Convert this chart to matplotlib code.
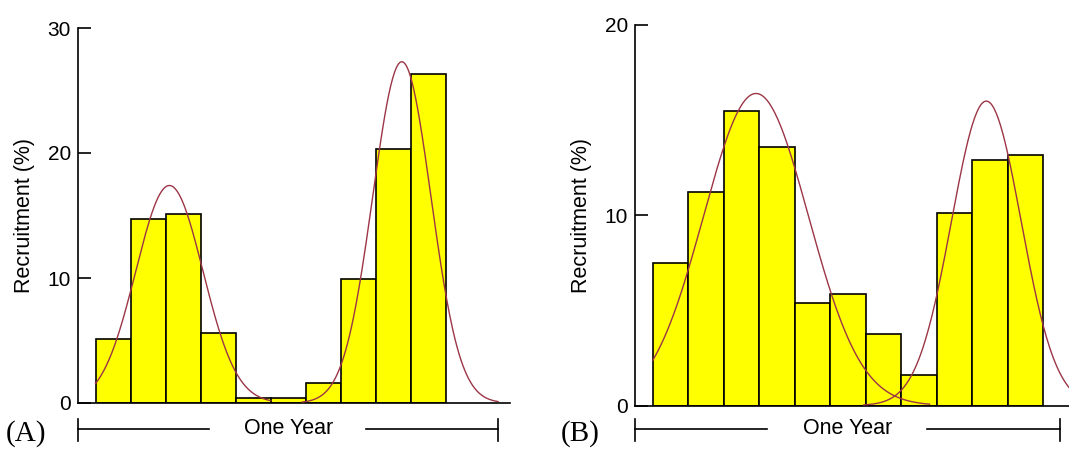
import numpy as np
import matplotlib
matplotlib.use('Agg')
import matplotlib.pyplot as plt

# panel A: recruitment per period (%)
rec_a = [5.1, 14.7, 15.1, 5.6, 0.4, 0.4, 1.6, 9.9, 20.3, 26.3]
# fitted normal components: mean, sd, peak, start, end
comp_a_mean = [2.61, 9.25]
comp_a_sd = [0.96, 0.83]
comp_a_peak = [17.4, 27.3]
comp_a_from = [0.5, 6.4]
comp_a_to = [5.5, 12.0]

# panel B
rec_b = [7.5, 11.2, 15.5, 13.6, 5.4, 5.85, 3.75, 1.6, 10.1, 12.9, 13.15]
comp_b_mean = [3.41, 9.9]
comp_b_sd = [1.48, 0.98]
comp_b_peak = [16.4, 16.0]
comp_b_from = [0.5, 6.45]
comp_b_to = [8.3, 12.3]

curve_col = '#9c3546'
font = 'Liberation Sans'

fig = plt.figure(figsize=(10.69, 4.49), dpi=100)
ax_a = fig.add_axes([78 / 1069, 46 / 449, 432 / 1069, 375 / 449])
ax_b = fig.add_axes([635 / 1069, 43.5 / 449, 434 / 1069, 380.5 / 449])


def draw(ax, rec, means, sds, peaks, starts, ends, ymax, xmax):
    pos = np.arange(1, len(rec) + 1)
    ax.bar(pos, rec, width=1.0, color='#ffff00', edgecolor='black', linewidth=1.2, zorder=2)
    for m, s, p, a, b in zip(means, sds, peaks, starts, ends):
        xs = np.linspace(a, b, 200)
        ax.plot(xs, p * np.exp(-(xs - m) ** 2 / (2 * s ** 2)), color=curve_col, lw=1.0, zorder=3)
    ax.set_xlim(0, xmax)
    ax.set_ylim(0, ymax)
    ax.set_yticks(range(0, ymax + 1, 10))
    ax.set_xticks([])
    for side in ['top', 'right']:
        ax.spines[side].set_visible(False)
    ax.spines['left'].set_linewidth(1.2)
    ax.spines['bottom'].set_linewidth(1.2)
    ax.spines['left'].set_zorder(4)
    ax.tick_params(axis='y', direction='in', length=9, width=1.2, labelsize=15, pad=5)
    for t in ax.get_yticklabels():
        t.set_fontfamily(font)
    ax.set_ylabel('Recruitment (%)', fontsize=15.5, fontfamily=font, labelpad=9)
    ax.patch.set_alpha(0)


draw(ax_a, rec_a, comp_a_mean, comp_a_sd, comp_a_peak, comp_a_from, comp_a_to, 30, 12.34)
draw(ax_b, rec_b, comp_b_mean, comp_b_sd, comp_b_peak, comp_b_from, comp_b_to, 20, 12.23)

# "One Year" brackets and panel letters (figure pixel coords)
def px(x, y):
    return x / 1069, 1 - y / 449


def bracket(x0, x1, xt0, xt1, xc, letter, lx):
    y = 429
    for a, b in [(x0, xt0), (xt1, x1)]:
        fig.add_artist(plt.Line2D([px(a, y)[0], px(b, y)[0]], [px(a, y)[1]] * 2, color='black', lw=1.2))
    for a in [x0, x1]:
        fig.add_artist(plt.Line2D([px(a, 0)[0]] * 2, [px(0, 419)[1], px(0, 441)[1]], color='black', lw=1.2))
    fig.text(*px(xc, y), 'One Year', ha='center', va='center', fontsize=15.5, fontfamily=font)
    fig.text(*px(lx, 434), letter, ha='left', va='center', fontsize=21, fontfamily='Liberation Serif')


bracket(78, 498, 209, 366, 289, '(A)', 6)
bracket(635, 1060, 767, 927, 848, '(B)', 561)

fig.savefig('out.png', dpi=100)
